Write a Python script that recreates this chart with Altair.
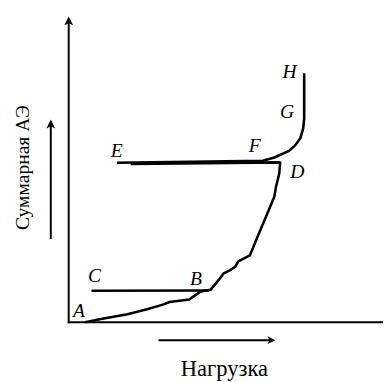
import altair as alt
import pandas as pd

# ---- data (load = x, summed AE = y) ----
path1_x = [16.7, 33, 60, 80, 97, 103, 123, 128, 133.3, 138, 145, 153.3, 158.3, 165, 170, 173.3, 185,
           193.3, 201.7, 210, 211.7, 215, 216, 63.3]
path1_y = [0, 3.3, 8.3, 13.3, 18.3, 20.7, 23.3, 26.7, 30.5, 32.2, 33.3, 43.3, 50, 53.3, 56.7, 62.3, 68.3,
           88.3, 108.3, 128.3, 138.3, 151.7, 163.3, 161.7]

path2_x = [23.3, 143]
path2_y = [32.3, 32.5]

path3_x = [49.3, 198.3, 210, 225, 232, 236.7, 239.5, 240.5, 240.5]
path3_y = [163, 165, 168.3, 175, 181.5, 188.3, 198, 208.3, 254.3]

point_labels = ["A", "B", "C", "D", "E", "F", "G", "H"]
label_x = [10.5, 130, 26.5, 233.5, 49, 190, 223, 225.5]
label_y = [11.5, 44.5, 47.5, 153.5, 175, 179.5, 214.5, 256]

x_title = "Нагрузка"
y_title = "Суммарная АЭ"

# axis geometry (x, y, x2, y2)
axis_x = [0, -1]
axis_y = [-1, 0]
axis_x2 = [0, 321]
axis_y2 = [309, 0]

arrow_x = [-18.3, 91.7]
arrow_y = [85, -18.3]
arrow_x2 = [-18.3, 209]
arrow_y2 = [204, -18.3]

head_x = [0, -18.3, 205.7]
head_y = [306.3, 201, -18.3]
head_angle = [0, 0, 90]
head_size = [144, 144, 110]

SERIF = "Liberation Serif"

XS = alt.Scale(domain=[-62, 321], nice=False, zero=False)
YS = alt.Scale(domain=[-57, 317], nice=False, zero=False)


def line_layer(xs, ys, width):
    df = pd.DataFrame({"x": xs, "y": ys, "i": list(range(len(xs)))})
    return alt.Chart(df).mark_line(color="black", strokeWidth=width, strokeJoin="round").encode(
        x=alt.X("x:Q", scale=XS, axis=None),
        y=alt.Y("y:Q", scale=YS, axis=None),
        order=alt.Order("i:Q"),
    )


p1 = line_layer(path1_x, path1_y, 2.6)
p2 = line_layer(path2_x, path2_y, 2.6)
p3 = line_layer(path3_x, path3_y, 2.6)

axes_df = pd.DataFrame({"x": axis_x, "y": axis_y, "x2": axis_x2, "y2": axis_y2})
axes = alt.Chart(axes_df).mark_rule(color="black", strokeWidth=2).encode(
    x=alt.X("x:Q", scale=XS, axis=None), y=alt.Y("y:Q", scale=YS, axis=None),
    x2="x2:Q", y2="y2:Q",
)

arr_df = pd.DataFrame({"x": arrow_x, "y": arrow_y, "x2": arrow_x2, "y2": arrow_y2})
arrows = alt.Chart(arr_df).mark_rule(color="black", strokeWidth=2).encode(
    x=alt.X("x:Q", scale=XS, axis=None), y=alt.Y("y:Q", scale=YS, axis=None),
    x2="x2:Q", y2="y2:Q",
)

head_df = pd.DataFrame({"x": head_x, "y": head_y, "a": head_angle, "s": head_size})
heads = alt.Chart(head_df).mark_point(
    shape="M0,-1L0.75,0.5L0,0.15L-0.75,0.5Z", filled=True, color="black", opacity=1
).encode(
    x=alt.X("x:Q", scale=XS, axis=None), y=alt.Y("y:Q", scale=YS, axis=None),
    angle=alt.Angle("a:Q", scale=None),
    size=alt.Size("s:Q", scale=None, legend=None),
)

lab_df = pd.DataFrame({"t": point_labels, "x": label_x, "y": label_y})
labels = alt.Chart(lab_df).mark_text(
    font=SERIF, fontSize=20, fontStyle="italic", color="black",
    align="center", baseline="middle",
).encode(
    x=alt.X("x:Q", scale=XS, axis=None), y=alt.Y("y:Q", scale=YS, axis=None), text="t:N"
)

xt_df = pd.DataFrame({"t": [x_title], "x": [159], "y": [-55]})
xt = alt.Chart(xt_df).mark_text(
    font=SERIF, fontSize=23, color="black", align="center", baseline="alphabetic"
).encode(x=alt.X("x:Q", scale=XS, axis=None), y=alt.Y("y:Q", scale=YS, axis=None), text="t:N")

yt_df = pd.DataFrame({"t": [y_title], "x": [-41], "y": [158]})
yt = alt.Chart(yt_df).mark_text(
    font=SERIF, fontSize=20, color="black", align="center", baseline="alphabetic", angle=270
).encode(x=alt.X("x:Q", scale=XS, axis=None), y=alt.Y("y:Q", scale=YS, axis=None), text="t:N")

chart = alt.layer(axes, arrows, heads, p2, p1, p3, labels, xt, yt).properties(
    width=383, height=374, autosize=alt.AutoSizeParams(type="none"), padding=0,
    background="white",
).configure_view(stroke=None)

chart.save("out.html", embed_options={"renderer": "svg", "actions": False})
